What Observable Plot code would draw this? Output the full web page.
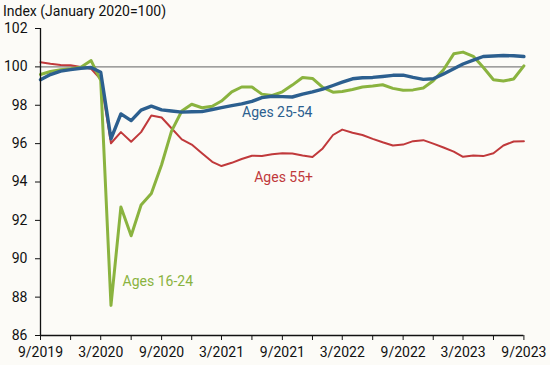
<!DOCTYPE html>
<html>
<head>
<meta charset="utf-8">
<script src="https://cdn.jsdelivr.net/npm/d3@7"></script>
<script src="https://cdn.jsdelivr.net/npm/@observablehq/plot@0.6"></script>
<style>
  html, body { margin: 0; padding: 0; background: #fcfbf7; }
  #chart svg { display: block; }
</style>
</head>
<body>
<div id="chart"></div>
<script>
// Monthly observations, 9/2019 .. 9/2023 (index, January 2020 = 100)
const startDate = new Date(Date.UTC(2019, 8, 1));
const endDate = new Date(Date.UTC(2023, 8, 1));
const months = d3.utcMonths(startDate, new Date(Date.UTC(2023, 9, 1)));

const ages1624 = [
  99.6, 99.76, 99.85, 99.9, 99.98, 100.33, 99.3, 87.57, 92.7, 91.2, 92.8, 93.4,
  94.9, 96.65, 97.7, 98.05, 97.87, 97.95, 98.22, 98.7, 98.95, 98.95, 98.58, 98.51,
  98.7, 99.05, 99.45, 99.4, 98.93, 98.68, 98.72, 98.82, 98.95, 99.0, 99.07, 98.88,
  98.78, 98.8, 98.9, 99.28, 99.85, 100.68, 100.77, 100.55, 99.98, 99.33, 99.26, 99.37,
  100.05
];
const ages2554 = [
  99.33, 99.6, 99.78, 99.86, 99.93, 99.97, 99.72, 96.25, 97.55, 97.2, 97.75, 97.95,
  97.76, 97.7, 97.64, 97.66, 97.67, 97.78, 97.88, 97.98, 98.07, 98.2, 98.4, 98.47,
  98.45, 98.43, 98.58, 98.7, 98.84, 99.03, 99.2, 99.38, 99.43, 99.45, 99.5, 99.56,
  99.57, 99.45, 99.35, 99.38, 99.63, 99.9, 100.15, 100.35, 100.54, 100.57, 100.59, 100.58,
  100.54
];
const ages55plus = [
  100.24, 100.16, 100.1, 100.09, 100.0, 99.9, 99.35, 96.02, 96.6, 96.1, 96.6, 97.47,
  97.36, 96.8, 96.22, 95.95, 95.5, 95.05, 94.83, 95.0, 95.2, 95.37, 95.36, 95.45,
  95.5, 95.48, 95.38, 95.3, 95.75, 96.45, 96.73, 96.57, 96.45, 96.25, 96.07, 95.9,
  95.95, 96.13, 96.18, 96.0, 95.8, 95.58, 95.31, 95.38, 95.35, 95.5, 95.9, 96.11,
  96.12
];

const yTicks = [86, 88, 90, 92, 94, 96, 98, 100, 102];
const xTickDates = d3.utcMonths(startDate, new Date(Date.UTC(2023, 9, 1)), 3);
const xTickLabels = ["9/2019", "3/2020", "9/2020", "3/2021", "9/2021", "3/2022", "9/2022", "3/2023", "9/2023"];
const labelDates = xTickDates.filter((d, i) => i % 2 === 0);
const labelMap = new Map(labelDates.map((d, i) => [+d, xTickLabels[i]]));

const seriesNames = ["Ages 16-24", "Ages 25-54", "Ages 55+"];
const seriesColors = ["#8ab33f", "#2c5f8f", "#c0393b"];
const labelDatesPos = [new Date(Date.UTC(2020, 4, 6)), new Date(Date.UTC(2021, 4, 2)), new Date(Date.UTC(2021, 5, 8))];
const labelValues = [88.82, 97.62, 94.24];

const toRows = (vals) => months.map((d, i) => ({date: d, value: vals[i]}));
const labels = seriesNames.map((name, i) => ({name, date: labelDatesPos[i], value: labelValues[i], color: seriesColors[i]}));

const chart = Plot.plot({
  width: 550,
  height: 365,
  marginLeft: 40,
  marginRight: 26.6,
  marginTop: 28,
  marginBottom: 30,
  style: {background: "#fcfbf7", fontFamily: "Roboto", fontSize: "14px", color: "#111"},
  x: {type: "utc", domain: [startDate, endDate]},
  y: {domain: [86, 102]},
  marks: [
    Plot.ruleY([100], {stroke: "#808080", strokeWidth: 1.2}),
    Plot.line(toRows(ages55plus), {x: "date", y: "value", stroke: seriesColors[2], strokeWidth: 2}),
    Plot.line(toRows(ages1624), {x: "date", y: "value", stroke: seriesColors[0], strokeWidth: 3}),
    Plot.line(toRows(ages2554), {x: "date", y: "value", stroke: seriesColors[1], strokeWidth: 3.4}),
    Plot.ruleY([86], {stroke: "#111", strokeWidth: 1.3}),
    Plot.ruleX([startDate], {stroke: "#111", strokeWidth: 1.3}),
    Plot.axisY({ticks: yTicks, tickSize: 5, tickPadding: 8, label: null, fontSize: 14}),
    Plot.axisX({ticks: xTickDates, tickFormat: d => labelMap.get(+d) ?? "", tickSize: 5, tickPadding: 7, label: null, fontSize: 14}),
    Plot.text(labels, {x: "date", y: "value", text: "name", fill: "color", textAnchor: "start", fontSize: 14}),
    Plot.text(["Index (January 2020=100)"], {frameAnchor: "top-left", lineAnchor: "middle", textAnchor: "start", dx: -37.5, dy: -16.5, fontSize: 14, fill: "#111"})
  ]
});
document.getElementById("chart").appendChild(chart);
</script>
</body>
</html>
